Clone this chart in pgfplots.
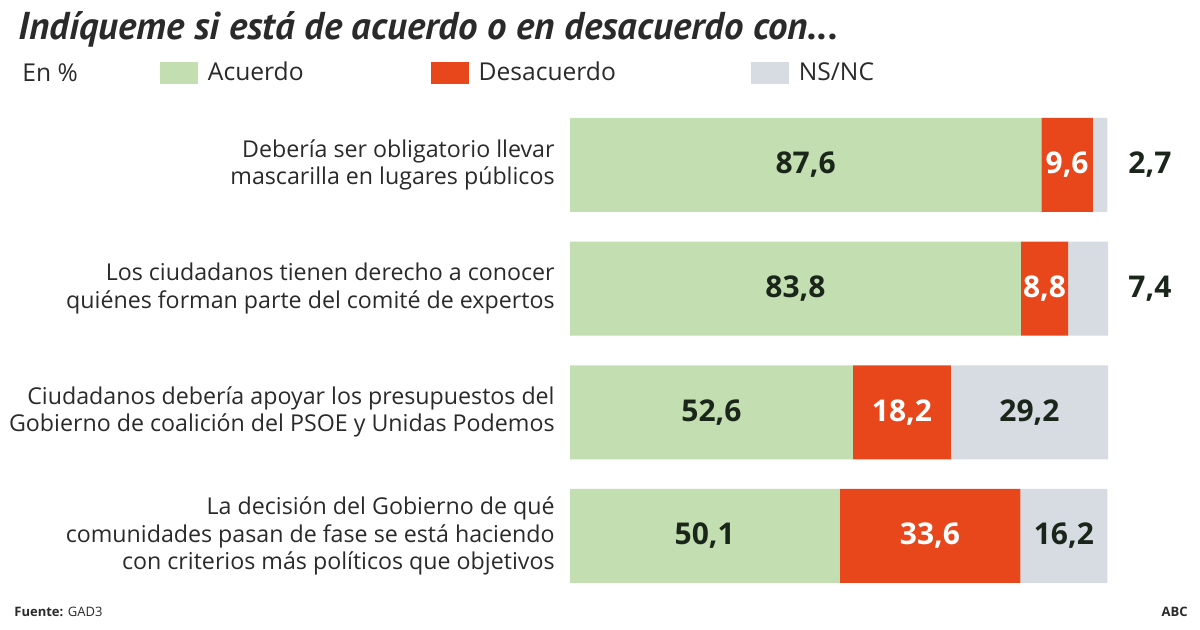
\documentclass[border=0pt]{standalone}
\usepackage{pgfplots}
\pgfplotsset{compat=1.18}
\usepackage{fontspec}
\setmainfont{Open Sans}
\newfontfamily\titlefont{PT Sans}
\definecolor{cAc}{HTML}{C3DEB0}
\definecolor{cDe}{HTML}{E8471C}
\definecolor{cNs}{HTML}{D6DCE2}
\definecolor{txt}{HTML}{2A2A2A}
\definecolor{numdark}{HTML}{1B261B}
\pgfplotsset{swatch legend/.style={legend image code/.code={\fill[##1] (0cm,-5.5pt) rectangle (19pt,5.5pt);}}}
\begin{document}
\begin{tikzpicture}
\useasboundingbox (0pt,0pt) rectangle (600pt,-315pt);
\fill[white] (0pt,0pt) rectangle (600pt,-315pt);
\node[anchor=west, inner sep=0, text=txt, font=\titlefont\bfseries\itshape\fontsize{19.4}{21}\selectfont] at (9pt,-14.5pt) {Indíqueme si está de acuerdo o en desacuerdo con...};
\node[anchor=west, inner sep=0, text=txt, font=\fontsize{12.3}{14}\selectfont] at (11pt,-36.5pt) {En \%};
\node[anchor=west, inner sep=0, text=txt, font=\fontsize{6.5}{8}\selectfont] at (7pt,-306pt) {\textbf{Fuente:} GAD3};
\node[anchor=east, inner sep=0, text=txt, font=\bfseries\fontsize{6.5}{8}\selectfont] at (594pt,-306pt) {ABC};
\begin{axis}[
  at={(285pt,-51.5pt)}, anchor=north west,
  scale only axis, width=269pt, height=247.4pt,
  xbar stacked, bar width=47pt,
  xmin=0, xmax=100, ymin=-0.5, ymax=3.5, y dir=reverse,
  hide axis, clip=false,
  legend columns=3,
  legend style={draw=none, fill=none, at={(axis description cs:-0.774,1.0606)}, anchor=west,
    font=\fontsize{12.3}{14}\selectfont, text=txt,
    /tikz/every odd column/.append style={column sep=3pt},
    /tikz/column 2/.style={column sep=61.5pt},
    /tikz/column 4/.style={column sep=65.5pt}},
]
\addplot[fill=cAc, draw=none, swatch legend] coordinates {(87.6,0) (83.8,1) (52.6,2) (50.1,3)};
\addplot[fill=cDe, draw=none, swatch legend] coordinates {(9.6,0) (8.8,1) (18.2,2) (33.6,3)};
\addplot[fill=cNs, draw=none, swatch legend] coordinates {(2.7,0) (7.4,1) (29.2,2) (16.2,3)};
\legend{Acuerdo, Desacuerdo, NS/NC}
\coordinate (a1) at (axis cs:43.8,0);
\coordinate (b1) at (axis cs:92.4,0);
\coordinate (c1) at (axis cs:107.8,0);
\coordinate (a2) at (axis cs:41.9,1);
\coordinate (b2) at (axis cs:88.2,1);
\coordinate (c2) at (axis cs:107.8,1);
\coordinate (a3) at (axis cs:26.3,2);
\coordinate (b3) at (axis cs:61.7,2);
\coordinate (c3) at (axis cs:85.4,2);
\coordinate (a4) at (axis cs:25.05,3);
\coordinate (b4) at (axis cs:66.9,3);
\coordinate (c4) at (axis cs:91.8,3);
\coordinate (l1) at (axis cs:0,0);
\coordinate (l2) at (axis cs:0,1);
\coordinate (l3) at (axis cs:0,2);
\coordinate (l4) at (axis cs:0,3);
\end{axis}
\begin{scope}[every node/.style={font=\bfseries\fontsize{15}{17}\selectfont, inner sep=0}]
\node[text=numdark] at (a1) {87,6};
\node[text=white] at (b1) {9,6};
\node[text=numdark] at (c1) {2,7};
\node[text=numdark] at (a2) {83,8};
\node[text=white] at (b2) {8,8};
\node[text=numdark] at (c2) {7,4};
\node[text=numdark] at (a3) {52,6};
\node[text=white] at (b3) {18,2};
\node[text=numdark] at (c3) {29,2};
\node[text=numdark] at (a4) {50,1};
\node[text=white] at (b4) {33,6};
\node[text=numdark] at (c4) {16,2};
\end{scope}
\begin{scope}[every node/.style={font=\fontsize{11.6}{13.6}\selectfont, text=txt, align=right, anchor=east, inner sep=0}]
\node at ([xshift=-7.5pt]l1) {Debería ser obligatorio llevar\\mascarilla en lugares públicos};
\node at ([xshift=-7.5pt]l2) {Los ciudadanos tienen derecho a conocer\\quiénes forman parte del comité de expertos};
\node at ([xshift=-7.5pt]l3) {Ciudadanos debería apoyar los presupuestos del\\Gobierno de coalición del PSOE y Unidas Podemos};
\node at ([xshift=-7.5pt]l4) {La decisión del Gobierno de qué\\comunidades pasan de fase se está haciendo\\con criterios más políticos que objetivos};
\end{scope}
\end{tikzpicture}
\end{document}
